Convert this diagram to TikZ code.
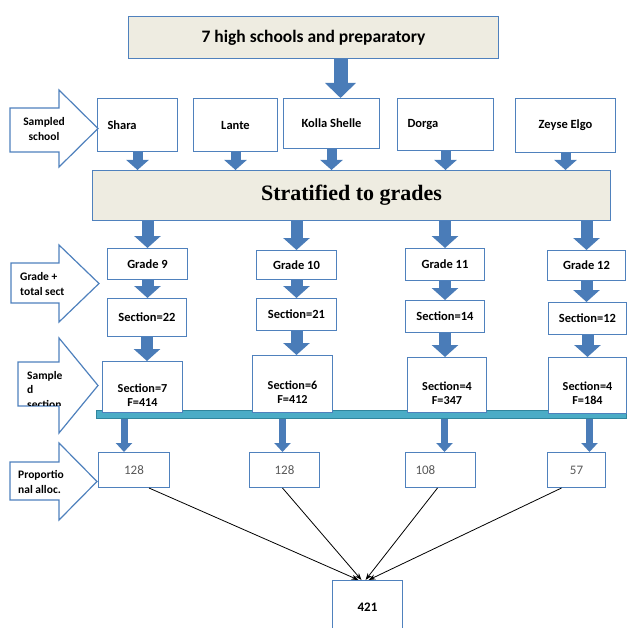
\documentclass[tikz,border=0pt]{standalone}
\usepackage{fontspec}
\setmainfont{Carlito}
\newfontfamily\stratfont{Liberation Serif}
\usetikzlibrary{arrows.meta}
\definecolor{boxblue}{HTML}{4F81BD}
\definecolor{arrowblue}{HTML}{4A7CB8}
\definecolor{beige}{HTML}{EEECE1}
\definecolor{barteal}{HTML}{4BACC6}
\definecolor{barline}{HTML}{31859C}
\definecolor{numgray}{HTML}{595959}

\tikzset{
  box/.style={draw=boxblue, line width=1pt, fill=white, anchor=north west,
              inner sep=2pt, align=center, font=\bfseries\fontsize{12.5}{15}\selectfont},
  headbox/.style={box, fill=beige},
  leftbox/.style={box, align=left, text width=#1, inner xsep=10pt},
  numbox/.style={box, font=\fontsize{13}{15}\selectfont, text=numgray},
  flabel/.style={font=\bfseries\fontsize{12.2}{14}\selectfont, align=center, yshift=-8pt},
  sidearr/.style={draw=boxblue, line width=1.2pt, fill=white, line join=miter},
  sidetext/.style={align=left, inner sep=0pt, font=\bfseries\fontsize{11.5}{14.5}\selectfont},
  fat/.style n args={3}{draw=arrowblue, line width=#1, -{Triangle[width=#2,length=#3]}},
  sumline/.style={-{Stealth[length=7pt,width=5pt]}, line width=0.8pt}
}

% hollow arrow at the left edge: x left, body top, body bottom, head top, head bottom, tip x
\newcommand{\sidearrow}[6]{%
  \draw[sidearr] (#1,#2) -- (59,#2) -- (59,#4) -- (#6,{(#4+#5)/2}) -- (59,#5)
    -- (59,#3) -- (#1,#3) -- cycle;}

\begin{document}
\begin{tikzpicture}[x=1pt, y=-1pt]
\useasboundingbox (0,0) rectangle (626,628);

% top and schools
\node[headbox, minimum width=370pt, minimum height=42pt,
      font=\bfseries\fontsize{17.5}{20}\selectfont] (top) at (128,16) {7 high schools and preparatory};
\node[leftbox=60pt, minimum height=53pt] (shara) at (97,98) {Shara};
\node[box, minimum width=84pt, minimum height=53pt] (lante) at (193,98) {Lante};
\node[box, minimum width=96pt, minimum height=50pt] (kolla) at (283,98) {Kolla Shelle};
\node[leftbox=76pt, minimum height=52pt] (dorga) at (397,98) {Dorga};
\node[box, minimum width=100pt, minimum height=54pt] (zeyse) at (515,98) {Zeyse Elgo};

\node[headbox, minimum width=518pt, minimum height=50pt,
      font=\stratfont\bfseries\fontsize{22}{25}\selectfont] (strat) at (92,170) {Stratified to grades};

% grades and sections
\node[box, minimum width=80pt, minimum height=31pt] (g9) at (107,248) {Grade 9};
\node[box, minimum width=80pt, minimum height=29pt] (g10) at (256,250) {Grade 10};
\node[box, minimum width=79pt, minimum height=32pt] (g11) at (405,248) {Grade 11};
\node[box, minimum width=78pt, minimum height=30pt] (g12) at (547,250) {Grade 12};

\node[box, minimum width=79pt, minimum height=38pt] (s22) at (107,298) {Section=22};
\node[box, minimum width=80pt, minimum height=32pt] (s21) at (256,298) {Section=21};
\node[box, minimum width=79pt, minimum height=32pt] (s14) at (405,300) {Section=14};
\node[box, minimum width=78pt, minimum height=32pt] (s12) at (548,302) {Section=12};

% bar behind the sampled sections
\node[draw=barline, fill=barteal, line width=0.8pt, minimum width=530pt, minimum height=8pt,
      inner sep=0pt, anchor=north west] (bar) at (96,410) {};

\node[box, minimum width=80pt, minimum height=51pt,
      label={[flabel]center:Section=7\\F=414}] (f7) at (102,361) {};
\node[box, minimum width=80pt, minimum height=57pt,
      label={[flabel]center:Section=6\\F=412}] (f6) at (252,355) {};
\node[box, minimum width=79pt, minimum height=55pt,
      label={[flabel]center:Section=4\\F=347}] (f4a) at (407,357) {};
\node[box, minimum width=78pt, minimum height=56pt,
      label={[flabel]center:Section=4\\F=184}] (f4b) at (548,357) {};

% proportional allocation
\node[numbox, minimum width=71pt, minimum height=35pt] (n1) at (98,452) {128};
\node[numbox, minimum width=70pt, minimum height=35pt] (n2) at (249,452) {128};
\node[numbox, align=left, text width=50pt, inner xsep=10pt, minimum height=35pt] (n3) at (405,452) {108};
\node[numbox, minimum width=58pt, minimum height=35pt] (n4) at (547,452) {57};

\node[box, minimum width=70pt, minimum height=54pt,
      font=\bfseries\fontsize{13}{15}\selectfont] (total) at (332,580) {421};

% block arrows
\coordinate (k) at ([xshift=9pt]kolla.north);
\draw[fat={14pt}{30pt}{15pt}] (k |- top.south) -- (k);
\foreach \s in {shara,lante,kolla,dorga,zeyse}
  \draw[fat={10pt}{22pt}{10pt}] (\s.south) -- (\s.south |- strat.north);
\foreach \g in {g9,g10,g11,g12}
  \draw[fat={12pt}{26pt}{12pt}] (\g.north |- strat.south) -- (\g.north);
\foreach \g/\s in {g9/s22,g10/s21,g11/s14,g12/s12}
  \draw[fat={12pt}{26pt}{12pt}] (\g.south) -- (\g.south |- \s.north);
\foreach \s/\f in {s22/f7,s21/f6,s14/f4a,s12/f4b}
  \draw[fat={12pt}{26pt}{12pt}] (\s.south) -- (\s.south |- \f.north);

\coordinate (p1) at ([xshift=-10pt]n1.north);
\coordinate (p2) at ([xshift=-2pt]n2.north);
\coordinate (p3) at ([xshift=4pt]n3.north);
\coordinate (p4) at ([xshift=13pt]n4.north);
\foreach \p in {p1,p2,p3,p4}
  \draw[fat={7pt}{16pt}{9pt}] (\p |- bar.south) -- (\p);

% lines to the total
\draw[sumline] ([xshift=15pt]n1.south) -- ([xshift=-9pt]total.north);
\draw[sumline] ([xshift=-2pt]n2.south) -- ([xshift=-6pt]total.north);
\draw[sumline] ([xshift=-3pt]n3.south) -- ([xshift=-2pt]total.north);
\draw[sumline] ([xshift=-15pt]n4.south) -- ([xshift=1pt]total.north);

% side arrows
\sidearrow{10}{108}{152}{90}{167}{98}
\node[sidetext, align=center] (lblschool) at (44,129) {Sampled\\school};
\sidearrow{11}{263}{303}{245}{322}{99}
\node[sidetext, anchor=west] (lblgrade) at (20,284) {Grade +\\total sect};
\sidearrow{18}{362}{406}{338}{433}{98}
\begin{scope}
  \clip (18,362) rectangle (98,405);
  \node[sidetext, anchor=west] (lblsampled) at (27,390) {Sample\\d\\section};
\end{scope}
\sidearrow{10}{462}{500}{443}{520}{97}
\node[sidetext, anchor=west] (lblprop) at (18,482) {Proportio\\nal alloc.};
\end{tikzpicture}
\end{document}
